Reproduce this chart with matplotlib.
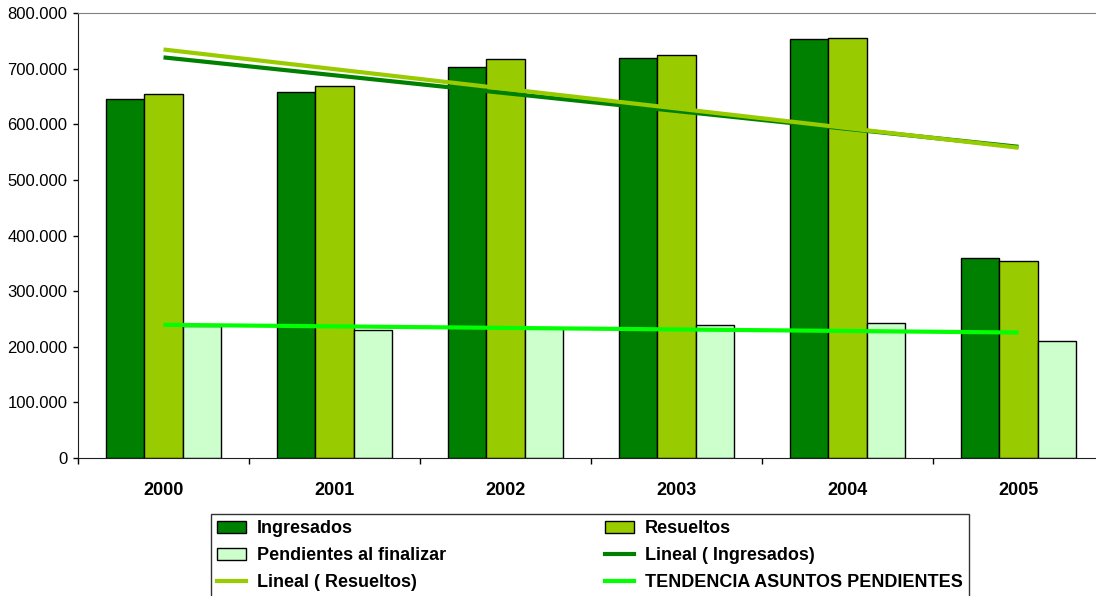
import numpy as np
import matplotlib
matplotlib.use("Agg")
import matplotlib.pyplot as plt
from matplotlib.patches import Patch
from matplotlib.lines import Line2D
from matplotlib.ticker import FuncFormatter, FixedLocator
from matplotlib import font_manager

years = ["2000", "2001", "2002", "2003", "2004", "2005"]
ingresados = [645500, 658000, 703000, 719000, 753500, 360000]
resueltos = [655000, 669500, 717000, 725000, 755500, 354500]
pendientes = [238000, 231000, 233000, 240000, 243000, 210000]

series_names = ["Ingresados", "Resueltos", "Pendientes al finalizar"]
trend_names = ["Lineal ( Ingresados)", "Lineal ( Resueltos)", "TENDENCIA ASUNTOS PENDIENTES"]

c_ing = "#008000"
c_res = "#99CC00"
c_pen = "#CCFFCC"
c_tpen = "#00FF00"

avail = {f.name for f in font_manager.fontManager.ttflist}
base_font = "Liberation Sans" if "Liberation Sans" in avail else "DejaVu Sans"
plt.rcParams["font.family"] = [base_font, "DejaVu Sans"]

fig = plt.figure(figsize=(10.96, 5.96), dpi=100)
ax = fig.add_axes([78 / 1096, (596 - 458) / 596, (1104 - 78) / 1096, (458 - 13) / 596])

x = np.arange(len(years))
w = 0.224
ax.bar(x - w, ingresados, w, color=c_ing, edgecolor="black", linewidth=1, zorder=2)
ax.bar(x, resueltos, w, color=c_res, edgecolor="black", linewidth=1, zorder=2)
ax.bar(x + w, pendientes, w, color=c_pen, edgecolor="black", linewidth=1, zorder=2)

# linear trend lines (least-squares fit, like Excel trendlines)
xe = np.array([x[0], x[-1]])
for vals, col in [(ingresados, c_ing), (resueltos, c_res), (pendientes, c_tpen)]:
    m, b = np.polyfit(x, vals, 1)
    ax.plot(xe, m * xe + b, color=col, linewidth=3, solid_capstyle="butt", zorder=3)

ax.set_xlim(-0.5, len(years) - 0.5)
ax.set_ylim(0, 800000)
ax.set_yticks(np.arange(0, 800001, 100000))
ax.yaxis.set_major_formatter(FuncFormatter(lambda v, p: "0" if v == 0 else f"{int(v):,}".replace(",", ".")))
ax.tick_params(axis="y", length=3.5, width=1, pad=4, labelsize=12, direction="out")

ax.xaxis.set_major_locator(FixedLocator(np.arange(-0.5, len(years), 1.0)))
ax.xaxis.set_major_formatter(FuncFormatter(lambda v, p: ""))
ax.set_xticks(x, years, minor=True)
ax.tick_params(axis="x", which="major", length=4, width=1, direction="out")
ax.tick_params(axis="x", which="minor", length=0, pad=17, labelsize=13)
for t in ax.get_xticklabels(minor=True):
    t.set_fontweight("bold")

ax.spines["top"].set_color("#808080")
ax.spines["right"].set_visible(False)
ax.spines["left"].set_color("#202020")
ax.spines["bottom"].set_color("#202020")

handles = [
    Patch(facecolor=c_ing, edgecolor="black", label=series_names[0]),
    Patch(facecolor=c_pen, edgecolor="black", label=series_names[2]),
    Line2D([], [], color=c_res, linewidth=3, label=trend_names[1]),
    Patch(facecolor=c_res, edgecolor="black", label=series_names[1]),
    Line2D([], [], color=c_ing, linewidth=3, label=trend_names[0]),
    Line2D([], [], color=c_tpen, linewidth=3, label=trend_names[2]),
]
x0 = 211 / 1096
x1 = 969 / 1096
ytop = 1 - 514 / 596
leg = fig.legend(handles=handles, ncol=2, loc="upper left", mode="expand",
                 bbox_to_anchor=(x0, ytop - 0.2, x1 - x0, 0.2),
                 prop={"weight": "bold", "size": 13},
                 frameon=True, fancybox=False, edgecolor="black",
                 borderaxespad=0, borderpad=0.35, handlelength=1.6, handleheight=0.65,
                 handletextpad=0.6, labelspacing=0.55)
leg.get_frame().set_linewidth(1)

fig.savefig("out.png", dpi=100)
